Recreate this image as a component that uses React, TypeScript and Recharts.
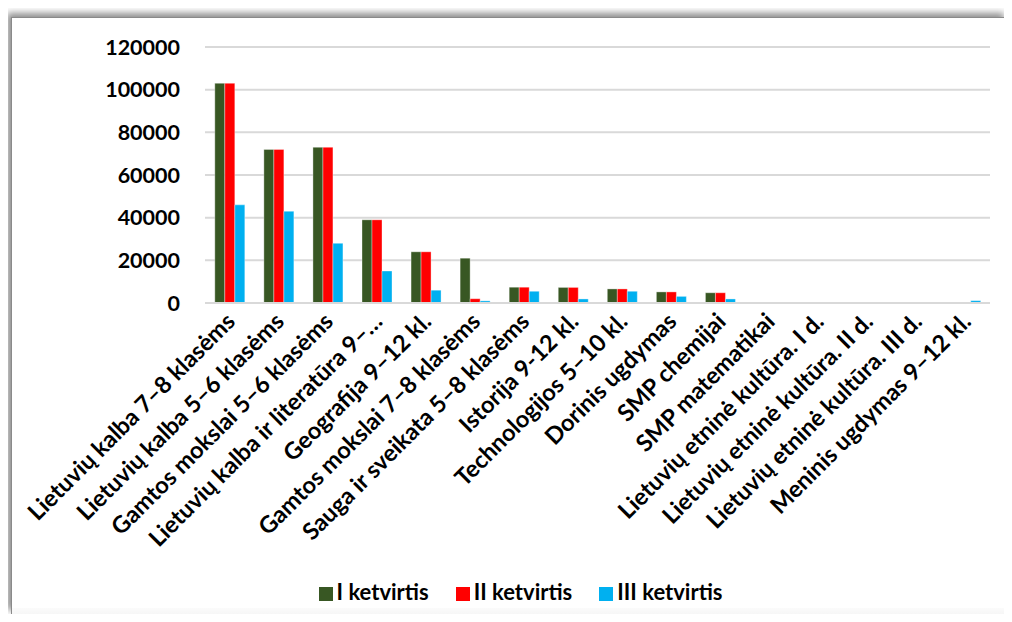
import React from "react";
import {
  BarChart,
  Bar,
  XAxis,
  YAxis,
  CartesianGrid,
  Legend,
} from "recharts";

const categories = [
  "Lietuvių kalba 7–8 klasėms",
  "Lietuvių kalba 5–6 klasėms",
  "Gamtos mokslai 5–6 klasėms",
  "Lietuvių kalba ir literatūra 9–…",
  "Geografija 9–12 kl.",
  "Gamtos mokslai 7–8 klasėms",
  "Sauga ir sveikata 5–8 klasėms",
  "Istorija 9-12 kl.",
  "Technologijos 5–10 kl.",
  "Dorinis ugdymas",
  "SMP chemijai",
  "SMP matematikai",
  "Lietuvių etninė kultūra. I d.",
  "Lietuvių etninė kultūra. II d.",
  "Lietuvių etninė kultūra. III d.",
  "Meninis ugdymas 9–12 kl.",
];

const q1 = [103000, 72000, 73000, 39000, 24000, 21000, 7400, 7300, 6600, 5200, 4800, 400, 100, 100, 100, 0];
const q2 = [103000, 72000, 73000, 39000, 24000, 2000, 7400, 7300, 6600, 5200, 4800, 300, 50, 50, 50, 0];
const q3 = [46000, 43000, 28000, 15000, 6000, 1000, 5500, 1900, 5500, 3100, 1900, 200, 0, 0, 0, 1100];

const yTicks = [0, 20000, 40000, 60000, 80000, 100000, 120000];

const data = categories.map((name, i) => ({
  name,
  q1: q1[i],
  q2: q2[i],
  q3: q3[i],
}));

const FONT = "Lato, 'Open Sans', sans-serif";

// pasukti kategorijų pavadinimai
const AngledTick = (props: any) => {
  const { x, y, payload } = props;
  const ax = x + 7;
  const ay = y + 12;
  return (
    <text
      x={ax}
      y={ay}
      transform={`rotate(-45, ${ax}, ${ay})`}
      textAnchor="end"
      fontSize={23.5}
      fontWeight={700}
      fontFamily={FONT}
      fill="#000"
    >
      {payload.value}
    </text>
  );
};

export default function App() {
  return (
    <div style={{ position: "relative", width: 1012, height: 622, margin: -8, background: "#fff", overflow: "hidden" }}>
      <div
        style={{
          position: "absolute",
          left: 11,
          top: 17,
          width: 996,
          height: 596,
          borderLeft: "1px solid #8a8a8a",
          borderTop: "1px solid #8a8a8a",
          boxShadow: "-4px -4px 7px rgba(0,0,0,0.45)",
          background: "#fff",
        }}
      />
      <div
        style={{
          position: "absolute",
          left: 12,
          top: 608,
          width: 995,
          height: 14,
          background: "linear-gradient(#fbfbfb, #f0f0f0)",
        }}
      />
      <div style={{ position: "absolute", left: 0, top: 0 }}>
        <BarChart
          width={1012}
          height={622}
          data={data}
          margin={{ top: 47, right: 22, left: 0, bottom: 14 }}
          barCategoryGap="20%"
          barGap={0}
        >
          <CartesianGrid vertical={false} stroke="#d9d9d9" strokeWidth={2} />
          <XAxis
            dataKey="name"
            interval={0}
            height={275}
            tick={<AngledTick />}
            tickLine={false}
            axisLine={{ stroke: "#d9d9d9", strokeWidth: 2 }}
          />
          <YAxis
            domain={[0, 120000]}
            ticks={yTicks}
            width={205}
            tickLine={false}
            axisLine={false}
            tickMargin={19}
            tick={{ fontSize: 21.5, fontWeight: 700, fill: "#000", fontFamily: FONT }}
          />
          <Legend
            verticalAlign="bottom"
            align="center"
            iconType="square"
            iconSize={14}
            wrapperStyle={{ left: 39, height: 30, fontFamily: FONT, fontSize: 22, fontWeight: 700 }}
            formatter={(value: string) => (
              <span style={{ color: "#000", marginRight: 17 }}>{value}</span>
            )}
          />
          <Bar dataKey="q1" name="I ketvirtis" fill="#385723" stroke="rgba(255,255,255,0.35)" isAnimationActive={false} />
          <Bar dataKey="q2" name="II ketvirtis" fill="#FF0000" stroke="rgba(255,255,255,0.35)" isAnimationActive={false} />
          <Bar dataKey="q3" name="III ketvirtis" fill="#00B0F0" stroke="rgba(255,255,255,0.35)" isAnimationActive={false} />
        </BarChart>
      </div>
    </div>
  );
}
